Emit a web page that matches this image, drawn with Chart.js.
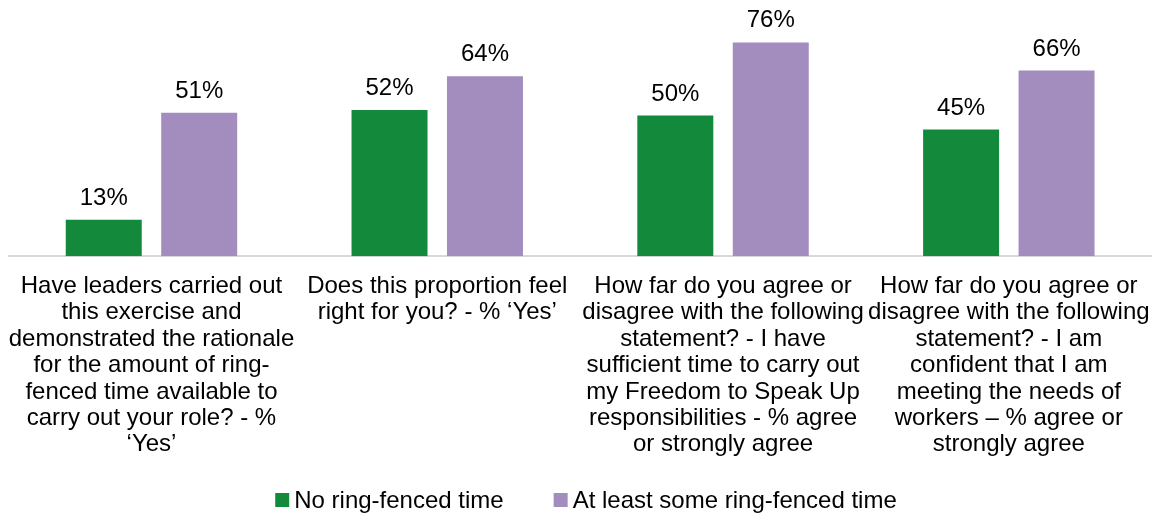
<!DOCTYPE html>
<html>
<head>
<meta charset="utf-8">
<script src="https://cdn.jsdelivr.net/npm/chart.js@4"></script>
<style>
  html, body { margin: 0; padding: 0; background: #fff; }
  #wrap { width: 1158px; height: 516px; }
</style>
</head>
<body>
<div id="wrap"><canvas id="chart"></canvas></div>
<script>
// category labels, already split into lines like the original
const categories = [
  ['Have leaders carried out', 'this exercise and', 'demonstrated the rationale', 'for the amount of ring-', 'fenced time available to', 'carry out your role? - %', '\u2018Yes\u2019'],
  ['Does this proportion feel', 'right for you? - % \u2018Yes\u2019'],
  ['How far do you agree or', 'disagree with the following', 'statement? - I have', 'sufficient time to carry out', 'my Freedom to Speak Up', 'responsibilities - % agree', 'or strongly agree'],
  ['How far do you agree or', 'disagree with the following', 'statement? - I am', 'confident that I am', 'meeting the needs of', 'workers \u2013 % agree or', 'strongly agree']
];
const seriesNames = ['No ring-fenced time', 'At least some ring-fenced time'];
const noRingFenced = [13, 52, 50, 45];
const someRingFenced = [51, 64, 76, 66];
const seriesColors = ['#138a3b', '#a38dbf'];

const FONT = 'Arial, "Liberation Sans", sans-serif';

// draws the "xx%" above every bar
const valueLabels = {
  id: 'valueLabels',
  afterDatasetsDraw(chart) {
    const ctx = chart.ctx;
    ctx.save();
    ctx.font = '24px ' + FONT;
    ctx.fillStyle = '#000';
    ctx.textAlign = 'center';
    ctx.textBaseline = 'alphabetic';
    chart.data.datasets.forEach((ds, i) => {
      chart.getDatasetMeta(i).data.forEach((bar, j) => {
        ctx.fillText(ds.data[j] + '%', bar.x, bar.y - 15);
      });
    });
    ctx.restore();
  }
};

// legend with a tight gap between square and text, like the original
const bottomLegend = {
  id: 'bottomLegend',
  afterDraw(chart) {
    const ctx = chart.ctx;
    const box = 14, gap = 5, itemGap = 50;
    ctx.save();
    ctx.font = '24px ' + FONT;
    ctx.textBaseline = 'middle';
    ctx.textAlign = 'left';
    const items = chart.data.datasets.map(ds => ({
      text: ds.label, color: ds.backgroundColor, w: ctx.measureText(ds.label).width
    }));
    let total = items.reduce((s, it) => s + box + gap + it.w, 0) + itemGap * (items.length - 1);
    let x = chart.width / 2 + 7 - total / 2;
    const y = chart.height - 16;
    items.forEach(it => {
      ctx.fillStyle = it.color;
      ctx.fillRect(x, y - box / 2, box, box);
      ctx.fillStyle = '#000';
      ctx.fillText(it.text, x + box + gap, y + 1);
      x += box + gap + it.w + itemGap;
    });
    ctx.restore();
  }
};

new Chart(document.getElementById('chart'), {
  type: 'bar',
  data: {
    labels: categories,
    datasets: [
      {
        label: seriesNames[0],
        data: noRingFenced,
        backgroundColor: seriesColors[0],
        categoryPercentage: 0.668,
        barPercentage: 0.796
      },
      {
        label: seriesNames[1],
        data: someRingFenced,
        backgroundColor: seriesColors[1],
        categoryPercentage: 0.668,
        barPercentage: 0.796
      }
    ]
  },
  options: {
    responsive: true,
    maintainAspectRatio: false,
    animation: false,
    layout: { padding: { top: 3, left: 2, right: 2, bottom: 49 } },
    scales: {
      x: {
        grid: { display: false },
        border: { color: '#d9d9d9', width: 2 },
        ticks: {
          color: '#000',
          font: { family: FONT, size: 24, lineHeight: 1.1 },
          padding: 9,
          autoSkip: false,
          maxRotation: 0
        }
      },
      y: {
        display: false,
        min: 0,
        max: 90
      }
    },
    plugins: {
      legend: { display: false },
      tooltip: { enabled: false }
    }
  },
  plugins: [valueLabels, bottomLegend]
});
</script>
</body>
</html>
